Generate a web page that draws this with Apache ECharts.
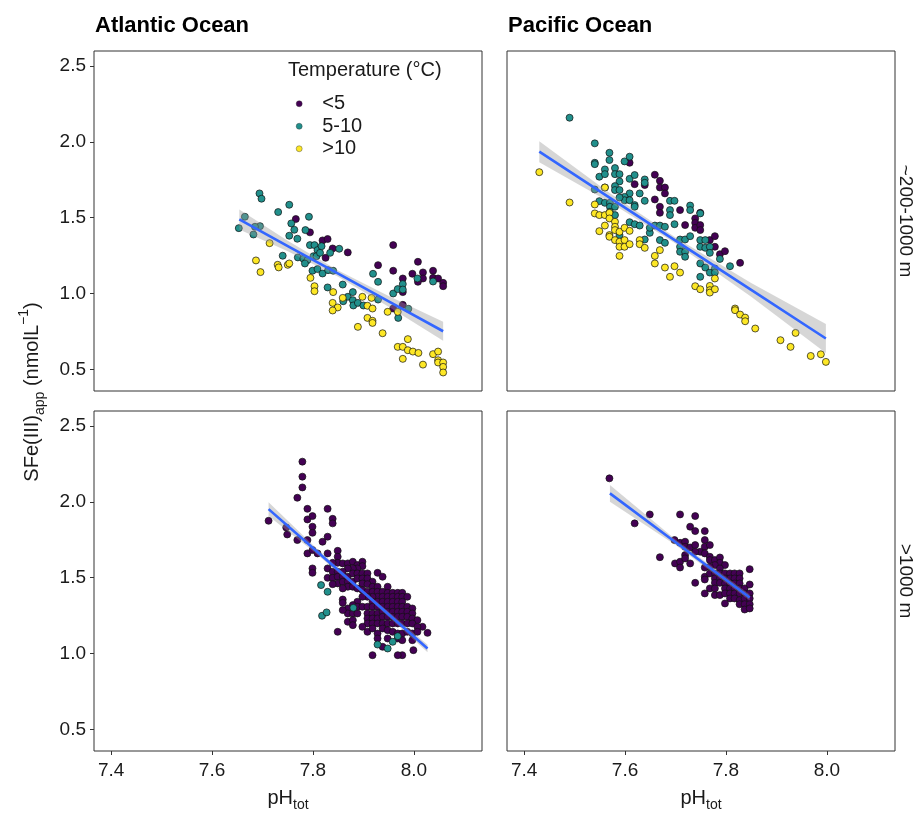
<!DOCTYPE html>
<html><head><meta charset="utf-8">
<script src="https://cdn.jsdelivr.net/npm/echarts@6/dist/echarts.min.js"></script>
<style>html,body{margin:0;padding:0;background:#fff}#c{width:915px;height:820px}</style>
</head><body><div id="c"></div>
<script>
const FONT = '"Liberation Sans", Arial, sans-serif';
const xTicks = [7.4, 7.6, 7.8, 8.0];
const yTicks = [0.5, 1.0, 1.5, 2.0, 2.5];
const tempClasses = ['<5', '5-10', '>10'];
const tempColors = ['#440154', '#21908C', '#FDE725'];
const oceans = ['Atlantic Ocean', 'Pacific Ocean'];
const depths = ['~200-1000 m', '>1000 m'];

// Atlantic, ~200-1000 m
const atlShallowCold = [[7.766,1.491],[7.794,1.403],[7.819,1.350],[7.829,1.359],[7.839,1.297],[7.825,1.235],[7.869,1.271],[7.959,1.319],[7.929,1.187],[7.959,1.150],[8.008,1.209],[7.997,1.130],[8.018,1.139],[8.018,1.099],[8.008,1.077],[7.978,1.099],[7.978,1.009],[8.038,1.150],[8.038,1.103],[8.048,1.099],[8.058,1.070],[8.058,1.048],[7.978,0.925],[7.959,0.901]];
const atlShallowMid = [[7.694,1.660],[7.698,1.625],[7.753,1.585],[7.731,1.537],[7.665,1.506],[7.653,1.431],[7.682,1.389],[7.695,1.444],[7.685,1.440],[7.792,1.506],[7.757,1.462],[7.763,1.420],[7.785,1.418],[7.753,1.381],[7.769,1.361],[7.794,1.319],[7.803,1.319],[7.809,1.286],[7.817,1.312],[7.740,1.249],[7.770,1.238],[7.781,1.229],[7.789,1.220],[7.784,1.198],[7.801,1.246],[7.807,1.246],[7.814,1.268],[7.834,1.268],[7.852,1.295],[7.799,1.150],[7.809,1.161],[7.819,1.132],[7.830,1.154],[7.840,1.150],[7.859,1.059],[7.829,1.040],[7.869,0.978],[7.879,1.009],[7.879,0.956],[7.860,0.949],[7.880,0.921],[7.889,0.938],[7.900,0.921],[7.919,1.130],[7.929,1.077],[7.929,0.960],[7.959,1.000],[7.968,1.029],[7.978,1.062],[7.978,1.026],[7.969,0.839],[7.989,0.899],[8.007,1.099],[8.038,1.079]];
const atlShallowWarm = [[7.714,1.332],[7.687,1.218],[7.696,1.141],[7.730,1.189],[7.732,1.172],[7.750,1.189],[7.753,1.198],[7.795,1.103],[7.803,1.048],[7.803,1.015],[7.840,1.009],[7.839,0.938],[7.849,0.908],[7.839,0.888],[7.859,0.971],[7.898,0.978],[7.908,0.919],[7.918,0.901],[7.916,0.971],[7.908,0.839],[7.918,0.820],[7.918,0.806],[7.889,0.780],[7.938,0.738],[7.948,0.879],[7.968,0.879],[7.968,0.648],[7.978,0.648],[7.988,0.699],[7.988,0.626],[7.998,0.617],[8.009,0.608],[7.978,0.569],[8.018,0.531],[8.038,0.600],[8.048,0.617],[8.048,0.560],[8.048,0.545],[8.058,0.545],[8.058,0.516],[8.058,0.479]];

// Pacific, ~200-1000 m
const pacShallowCold = [[7.609,1.862],[7.659,1.783],[7.669,1.743],[7.669,1.699],[7.679,1.699],[7.679,1.660],[7.619,1.721],[7.639,1.715],[7.659,1.620],[7.669,1.572],[7.669,1.532],[7.709,1.550],[7.739,1.495],[7.739,1.466],[7.739,1.433],[7.749,1.532],[7.749,1.451],[7.749,1.418],[7.719,1.451],[7.768,1.352],[7.778,1.378],[7.778,1.308],[7.788,1.259],[7.798,1.279],[7.828,1.202]];
const pacShallowMid = [[7.490,2.159],[7.540,1.990],[7.540,1.862],[7.540,1.853],[7.569,1.928],[7.569,1.880],[7.599,1.871],[7.609,1.902],[7.549,1.770],[7.560,1.818],[7.560,1.787],[7.580,1.827],[7.580,1.787],[7.589,1.787],[7.589,1.739],[7.609,1.756],[7.619,1.781],[7.639,1.752],[7.639,1.730],[7.540,1.686],[7.560,1.699],[7.580,1.708],[7.580,1.682],[7.589,1.682],[7.609,1.660],[7.629,1.660],[7.599,1.637],[7.599,1.615],[7.609,1.615],[7.589,1.633],[7.619,1.583],[7.619,1.572],[7.639,1.611],[7.549,1.609],[7.560,1.598],[7.570,1.598],[7.570,1.572],[7.570,1.539],[7.580,1.572],[7.580,1.517],[7.589,1.385],[7.609,1.470],[7.619,1.457],[7.629,1.448],[7.639,1.356],[7.649,1.400],[7.649,1.433],[7.659,1.448],[7.669,1.448],[7.679,1.440],[7.689,1.611],[7.698,1.611],[7.689,1.550],[7.689,1.517],[7.698,1.457],[7.669,1.352],[7.679,1.334],[7.709,1.356],[7.709,1.308],[7.709,1.275],[7.719,1.356],[7.719,1.275],[7.719,1.242],[7.729,1.580],[7.729,1.550],[7.729,1.378],[7.749,1.528],[7.749,1.352],[7.749,1.308],[7.759,1.352],[7.759,1.301],[7.768,1.308],[7.768,1.268],[7.749,1.198],[7.759,1.171],[7.768,1.138],[7.778,1.165],[7.778,1.138],[7.788,1.228],[7.808,1.180],[7.749,1.110]];
const pacShallowWarm = [[7.430,1.800],[7.490,1.600],[7.560,1.699],[7.540,1.587],[7.540,1.528],[7.549,1.517],[7.560,1.517],[7.549,1.411],[7.560,1.448],[7.569,1.532],[7.569,1.495],[7.569,1.385],[7.569,1.374],[7.580,1.473],[7.580,1.440],[7.580,1.418],[7.580,1.352],[7.589,1.407],[7.589,1.341],[7.589,1.308],[7.589,1.248],[7.599,1.433],[7.599,1.352],[7.599,1.308],[7.609,1.413],[7.609,1.325],[7.629,1.352],[7.629,1.325],[7.639,1.301],[7.659,1.248],[7.659,1.198],[7.669,1.286],[7.679,1.171],[7.689,1.110],[7.698,1.180],[7.709,1.138],[7.739,1.048],[7.749,1.028],[7.768,1.050],[7.768,1.022],[7.768,1.006],[7.778,1.099],[7.778,1.028],[7.818,0.901],[7.818,0.890],[7.828,0.861],[7.838,0.841],[7.838,0.817],[7.858,0.769],[7.908,0.692],[7.928,0.648],[7.938,0.740],[7.968,0.588],[7.988,0.599],[7.998,0.549]];

// Atlantic, >1000 m
const atlDeepCold = [[7.779,2.265],[7.779,2.166],[7.779,2.095],[7.769,2.027],[7.789,1.954],[7.789,1.884],[7.799,1.906],[7.829,1.954],[7.839,1.888],[7.839,1.858],[7.799,1.836],[7.799,1.796],[7.712,1.875],[7.749,1.785],[7.747,1.831],[7.769,1.748],[7.789,1.748],[7.789,1.660],[7.799,1.682],[7.819,1.737],[7.829,1.770],[7.809,1.660],[7.799,1.561],[7.799,1.532],[7.829,1.660],[7.849,1.677],[7.849,1.638],[7.849,1.598],[7.839,1.598],[7.829,1.561],[7.839,1.539],[7.829,1.499],[7.839,1.499],[7.859,1.594],[7.869,1.594],[7.879,1.605],[7.888,1.583],[7.898,1.605],[7.898,1.576],[7.888,1.561],[7.879,1.561],[7.869,1.561],[7.859,1.539],[7.849,1.539],[7.849,1.506],[7.859,1.506],[7.869,1.506],[7.879,1.528],[7.888,1.528],[7.898,1.528],[7.908,1.528],[7.928,1.532],[7.938,1.506],[7.849,1.462],[7.839,1.457],[7.859,1.473],[7.869,1.473],[7.879,1.473],[7.888,1.495],[7.898,1.495],[7.908,1.495],[7.918,1.473],[7.898,1.462],[7.908,1.457],[7.918,1.440],[7.928,1.440],[7.948,1.440],[7.869,1.440],[7.879,1.440],[7.888,1.429],[7.859,1.429],[7.898,1.418],[7.908,1.407],[7.918,1.407],[7.928,1.407],[7.938,1.407],[7.948,1.400],[7.958,1.400],[7.968,1.400],[7.977,1.400],[7.928,1.374],[7.938,1.374],[7.948,1.374],[7.958,1.374],[7.968,1.374],[7.977,1.374],[7.987,1.374],[7.918,1.374],[7.908,1.374],[7.898,1.374],[7.918,1.341],[7.928,1.341],[7.938,1.341],[7.948,1.341],[7.958,1.341],[7.968,1.341],[7.977,1.341],[7.888,1.341],[7.879,1.319],[7.859,1.356],[7.859,1.334],[7.869,1.297],[7.869,1.264],[7.879,1.264],[7.888,1.264],[7.888,1.308],[7.898,1.308],[7.908,1.308],[7.918,1.308],[7.928,1.308],[7.938,1.308],[7.948,1.308],[7.958,1.308],[7.968,1.308],[7.977,1.308],[7.987,1.308],[7.997,1.297],[7.908,1.264],[7.918,1.264],[7.928,1.264],[7.938,1.275],[7.948,1.275],[7.958,1.275],[7.968,1.275],[7.977,1.275],[7.987,1.275],[7.997,1.264],[7.908,1.231],[7.918,1.231],[7.928,1.231],[7.938,1.242],[7.948,1.242],[7.958,1.242],[7.968,1.242],[7.977,1.242],[7.987,1.242],[7.997,1.231],[8.007,1.220],[8.017,1.176],[8.027,1.136],[7.908,1.198],[7.918,1.198],[7.928,1.198],[7.938,1.198],[7.948,1.198],[7.958,1.198],[7.968,1.198],[7.977,1.198],[7.987,1.198],[7.997,1.198],[8.007,1.176],[7.898,1.176],[7.908,1.143],[7.918,1.165],[7.928,1.132],[7.938,1.165],[7.948,1.154],[7.958,1.143],[7.968,1.132],[7.977,1.132],[7.987,1.143],[7.997,1.132],[8.007,1.143],[7.928,1.099],[7.938,1.044],[7.948,1.099],[7.968,1.099],[7.977,1.088],[7.997,1.088],[7.999,1.022],[7.977,0.989],[7.968,0.989],[7.918,0.989],[7.849,1.143],[7.869,1.209],[7.879,1.220],[7.859,1.286],[7.879,1.187]];
const atlDeepMid = [[7.816,1.451],[7.829,1.407],[7.818,1.249],[7.827,1.271],[7.880,1.301],[7.928,1.059],[7.948,1.033],[7.958,1.077],[7.968,1.114]];
const atlDeepWarm = [];

// Pacific, >1000 m
const pacDeepCold = [[7.569,2.155],[7.649,1.917],[7.619,1.858],[7.709,1.917],[7.739,1.906],[7.729,1.836],[7.739,1.807],[7.758,1.807],[7.698,1.748],[7.709,1.730],[7.719,1.737],[7.719,1.704],[7.729,1.699],[7.739,1.715],[7.749,1.671],[7.758,1.748],[7.758,1.704],[7.768,1.715],[7.758,1.660],[7.669,1.635],[7.699,1.594],[7.709,1.605],[7.709,1.567],[7.719,1.649],[7.719,1.627],[7.729,1.594],[7.739,1.671],[7.768,1.638],[7.768,1.616],[7.778,1.616],[7.788,1.633],[7.788,1.598],[7.798,1.583],[7.778,1.583],[7.768,1.572],[7.758,1.567],[7.788,1.561],[7.758,1.506],[7.768,1.528],[7.778,1.528],[7.788,1.528],[7.798,1.528],[7.808,1.528],[7.817,1.528],[7.827,1.528],[7.758,1.488],[7.778,1.495],[7.788,1.495],[7.798,1.495],[7.808,1.495],[7.817,1.495],[7.827,1.495],[7.778,1.466],[7.788,1.466],[7.798,1.462],[7.808,1.462],[7.817,1.462],[7.827,1.462],[7.768,1.429],[7.778,1.429],[7.798,1.429],[7.808,1.429],[7.817,1.429],[7.827,1.429],[7.837,1.429],[7.847,1.455],[7.847,1.556],[7.778,1.385],[7.788,1.385],[7.798,1.396],[7.808,1.396],[7.817,1.396],[7.827,1.396],[7.837,1.396],[7.847,1.396],[7.808,1.363],[7.817,1.363],[7.827,1.352],[7.837,1.363],[7.847,1.363],[7.798,1.330],[7.827,1.325],[7.837,1.325],[7.847,1.325],[7.837,1.290],[7.847,1.297],[7.758,1.396],[7.739,1.466]];
const pacDeepMid = [];
const pacDeepWarm = [];

// Linear fits (lm) with 95% confidence band
const atlShallowFitX = [7.654, 7.75, 7.85, 7.95, 8.058];
const atlShallowFitY = [1.488, 1.313, 1.131, 0.948, 0.751];
const atlShallowLo  = [1.422, 1.278, 1.111, 0.913, 0.689];
const atlShallowHi  = [1.554, 1.348, 1.151, 0.983, 0.813];

const pacShallowFitX = [7.43, 7.57, 7.70, 7.85, 7.998];
const pacShallowFitY = [1.935, 1.631, 1.349, 1.024, 0.703];
const pacShallowLo  = [1.866, 1.601, 1.329, 0.979, 0.607];
const pacShallowHi  = [2.004, 1.661, 1.369, 1.069, 0.799];

const atlDeepFitX = [7.712, 7.80, 7.90, 8.027];
const atlDeepFitY = [1.952, 1.695, 1.404, 1.033];
const atlDeepLo  = [1.907, 1.675, 1.392, 1.008];
const atlDeepHi  = [1.997, 1.715, 1.416, 1.058];

const pacDeepFitX = [7.570, 7.70, 7.847];
const pacDeepFitY = [2.056, 1.734, 1.369];
const pacDeepLo  = [2.001, 1.716, 1.349];
const pacDeepHi  = [2.111, 1.752, 1.389];

const panels = [
  {pts:[atlShallowCold, atlShallowMid, atlShallowWarm], fx:atlShallowFitX, fy:atlShallowFitY, lo:atlShallowLo, hi:atlShallowHi},
  {pts:[pacShallowCold, pacShallowMid, pacShallowWarm], fx:pacShallowFitX, fy:pacShallowFitY, lo:pacShallowLo, hi:pacShallowHi},
  {pts:[atlDeepCold, atlDeepMid, atlDeepWarm], fx:atlDeepFitX, fy:atlDeepFitY, lo:atlDeepLo, hi:atlDeepHi},
  {pts:[pacDeepCold, pacDeepMid, pacDeepWarm], fx:pacDeepFitX, fy:pacDeepFitY, lo:pacDeepLo, hi:pacDeepHi}
];

const X_MIN = 7.366, X_MAX = 8.135, Y_MIN = 0.357, Y_MAX = 2.599;
const gridBoxes = [
  {left:94, top:51, width:388, height:340},
  {left:507, top:51, width:388, height:340},
  {left:94, top:411, width:388, height:340},
  {left:507, top:411, width:388, height:340}
];

const grids = [], xAxes = [], yAxes = [], series = [];
gridBoxes.forEach((b, i) => {
  const bottomRow = i >= 2, leftCol = i % 2 === 0;
  grids.push(Object.assign({show:true, borderColor:'#333', borderWidth:1, backgroundColor:'#fff', containLabel:false}, b));
  xAxes.push({
    gridIndex:i, type:'value', min:X_MIN, max:X_MAX,
    axisLine:{show:false}, splitLine:{show:false},
    axisTick:{show:bottomRow, length:4, lineStyle:{color:'#333', width:1}, customValues:xTicks},
    axisLabel:{show:bottomRow, customValues:xTicks, formatter:v=>v.toFixed(1), fontSize:19, color:'#1a1a1a', margin:10, fontFamily:FONT},
    name: bottomRow ? '{a|pH}{b|tot}' : '',
    nameLocation:'middle', nameGap:33,
    nameTextStyle:{fontFamily:FONT, rich:{
      a:{fontSize:20, color:'#1a1a1a', fontFamily:FONT, lineHeight:28, verticalAlign:'middle'},
      b:{fontSize:14, color:'#1a1a1a', fontFamily:FONT, lineHeight:28, verticalAlign:'bottom'}
    }}
  });
  yAxes.push({
    gridIndex:i, type:'value', min:Y_MIN, max:Y_MAX,
    axisLine:{show:false}, splitLine:{show:false},
    axisTick:{show:leftCol, length:4, lineStyle:{color:'#333', width:1}, customValues:yTicks},
    axisLabel:{show:leftCol, customValues:yTicks, formatter:v=>v.toFixed(1), fontSize:19, color:'#1a1a1a', margin:8, fontFamily:FONT}
  });
  const p = panels[i];
  p.pts.forEach((arr, k) => {
    series.push({
      type:'scatter', name:tempClasses[k], xAxisIndex:i, yAxisIndex:i, z:2,
      data:arr, symbol:'circle', symbolSize:7,
      itemStyle:{color:tempColors[k], borderColor:'#111', borderWidth:0.7, opacity:1},
      emphasis:{disabled:true}, silent:true
    });
  });
  // confidence band as a polygon mapped through the axes
  series.push({
    type:'custom', xAxisIndex:i, yAxisIndex:i, z:3, silent:true, clip:true,
    data:p.fx.map((x,j)=>[x, p.lo[j], p.hi[j]]),
    encode:{x:0, y:[1,2]},
    renderItem:(params, api) => {
      if (params.dataIndex !== 0) return null;
      const upper = p.fx.map((x,j)=>api.coord([x, p.hi[j]]));
      const lower = p.fx.map((x,j)=>api.coord([x, p.lo[j]])).reverse();
      return {type:'polygon', shape:{points:upper.concat(lower)},
        style:{fill:'rgba(153,153,153,0.4)', stroke:null}};
    }
  });
  series.push({
    type:'line', xAxisIndex:i, yAxisIndex:i, z:4, symbol:'none',
    data:p.fx.map((x,j)=>[x, p.fy[j]]), lineStyle:{color:'#3366FF', width:2.6}, silent:true
  });
});

const txt = (text, x, y, size, opts={}) => Object.assign({
  type:'text', x, y, z:100,
  style:Object.assign({text, fontSize:size, fontFamily:FONT, fill:'#1a1a1a', textAlign:'left', textVerticalAlign:'middle'}, opts.style||{})
}, opts.el||{});

const graphics = [
  txt(oceans[0], 95, 26, 22, {style:{fontWeight:'bold', fill:'#000'}}),
  txt(oceans[1], 508, 26, 22, {style:{fontWeight:'bold', fill:'#000'}}),
  txt(depths[0], 905, 221, 19, {el:{rotation:-Math.PI/2}, style:{textAlign:'center'}}),
  txt(depths[1], 905, 581, 19, {el:{rotation:-Math.PI/2}, style:{textAlign:'center'}}),
  txt('Temperature (°C)', 288, 70, 20),
  {
    type:'text', x:32, y:392, rotation:Math.PI/2, z:100,
    style:{
      text:'{n|SFe(III)}{s|app}{n| (nmolL}{p|−1}{n|)}',
      textAlign:'center', textVerticalAlign:'middle', fontFamily:FONT,
      rich:{
        n:{fontSize:20, fontFamily:FONT, fill:'#1a1a1a', color:'#1a1a1a', lineHeight:30, verticalAlign:'middle'},
        s:{fontSize:14, fontFamily:FONT, fill:'#1a1a1a', color:'#1a1a1a', lineHeight:30, verticalAlign:'bottom'},
        p:{fontSize:14, fontFamily:FONT, fill:'#1a1a1a', color:'#1a1a1a', lineHeight:30, verticalAlign:'top'}
      }
    }
  }
];

const chart = echarts.init(document.getElementById('c'), null, {renderer:'canvas'});
chart.setOption({
  animation:false,
  backgroundColor:'#fff',
  grid:grids, xAxis:xAxes, yAxis:yAxes, series,
  legend:{
    data:tempClasses, orient:'vertical', left:291, top:88, selectedMode:false,
    icon:'circle', itemWidth:6, itemHeight:6, itemGap:1,
    itemStyle:{borderWidth:0.4, borderColor:'#333'},
    textStyle:{fontSize:20, fontFamily:FONT, color:'#1a1a1a', lineHeight:21.5, padding:[0,0,0,15]}
  },
  graphic:graphics
});
</script>
</body></html>
